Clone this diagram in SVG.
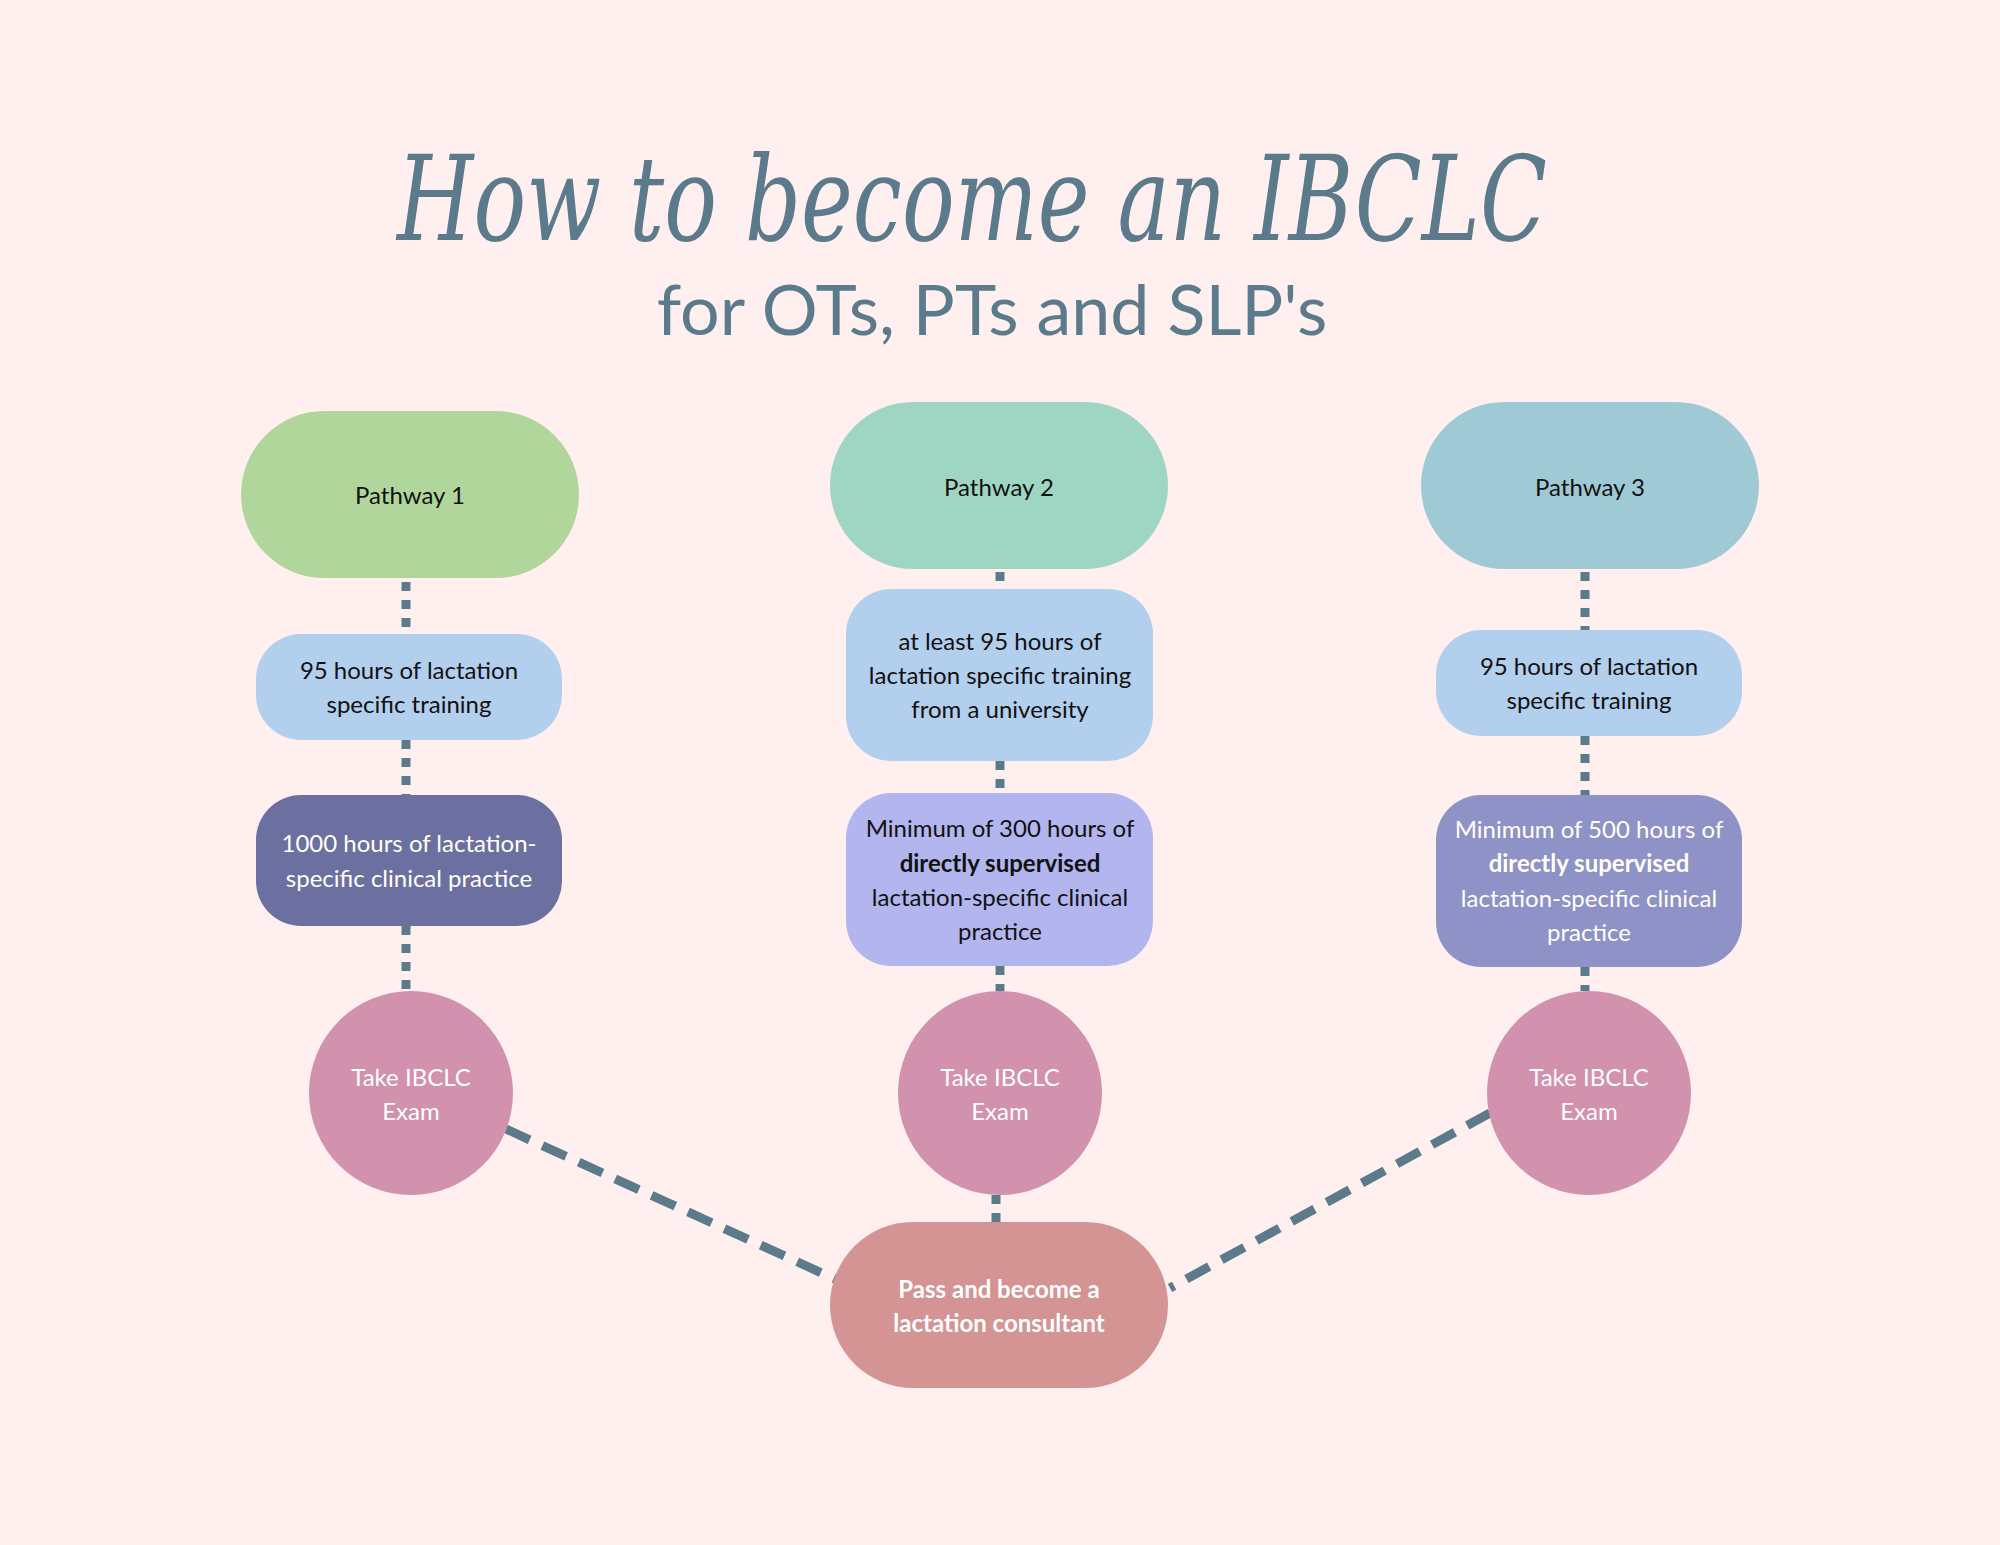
<svg xmlns="http://www.w3.org/2000/svg" width="2000" height="1545" viewBox="0 0 2000 1545">
<style>
.t{font-family:"Lato","Noto Sans",sans-serif;font-size:24px;text-anchor:middle;fill:#111}
.w{fill:#fff}
.b{font-weight:bold}
.dot{stroke:#5b7a8a;stroke-width:9;stroke-dasharray:9 9;fill:none}
.dash{stroke:#5b7a8a;stroke-width:9;stroke-dasharray:26 14;fill:none}
</style>
<rect width="2000" height="1545" fill="#fff0ef"/>
<text x="972" y="240" font-family="'DejaVu Serif',serif" font-style="italic" font-size="118" fill="#5b7a8c" text-anchor="middle" textLength="1150" lengthAdjust="spacingAndGlyphs">How to become an IBCLC</text>
<text x="992" y="335" font-family="'Lato','Noto Sans',sans-serif" font-size="70" fill="#5b7a8c" text-anchor="middle">for OTs, PTs and SLP's</text>
<g id="connectors">
<path class="dot" d="M406 582V634M406 740V795M406 926V991"/>
<path class="dot" d="M1000 572V589M1000 761V793M1000 966V991"/>
<path class="dot" d="M1585 572V630M1585 736V795M1585 967V991"/>
<path class="dot" d="M996 1195V1222"/>
<path class="dash" d="M506 1129L835 1279"/>
<path class="dash" d="M1490 1113L1170 1288"/>
</g>
<g id="p1"><rect x="241" y="411" width="338" height="167" rx="83.5" fill="#b0d69b"/><text class="t" x="410" y="504">Pathway 1</text></g>
<g id="p2"><rect x="830" y="402" width="338" height="167" rx="83.5" fill="#9fd6c3"/><text class="t" x="999" y="496">Pathway 2</text></g>
<g id="p3"><rect x="1421" y="402" width="338" height="167" rx="83.5" fill="#a0c9d6"/><text class="t" x="1590" y="496">Pathway 3</text></g>
<g id="b1a"><rect x="256" y="634" width="306" height="106" rx="45" fill="#b3cfee"/><text class="t" x="409" y="679">95 hours of lactation</text><text class="t" x="409" y="713">specific training</text></g>
<g id="b1b"><rect x="256" y="795" width="306" height="131" rx="45" fill="#6b70a0"/><text class="t w" x="409" y="852">1000 hours of lactation-</text><text class="t w" x="409" y="887">specific clinical practice</text></g>
<g id="b2a"><rect x="846" y="589" width="307" height="172" rx="45" fill="#b3cfee"/><text class="t" x="1000" y="650">at least 95 hours of</text><text class="t" x="1000" y="684">lactation specific training</text><text class="t" x="1000" y="718">from a university</text></g>
<g id="b2b"><rect x="846" y="793" width="307" height="173" rx="45" fill="#b3b6ee"/><text class="t" x="1000" y="837">Minimum of 300 hours of</text><text class="t b" x="1000" y="872">directly supervised</text><text class="t" x="1000" y="906">lactation-specific clinical</text><text class="t" x="1000" y="940">practice</text></g>
<g id="b3a"><rect x="1436" y="630" width="306" height="106" rx="45" fill="#b3cfee"/><text class="t" x="1589" y="675">95 hours of lactation</text><text class="t" x="1589" y="709">specific training</text></g>
<g id="b3b"><rect x="1436" y="795" width="306" height="172" rx="45" fill="#8f92c6"/><text class="t w" x="1589" y="838">Minimum of 500 hours of</text><text class="t w b" x="1589" y="872">directly supervised</text><text class="t w" x="1589" y="907">lactation-specific clinical</text><text class="t w" x="1589" y="941">practice</text></g>
<g id="c1"><circle cx="411" cy="1093" r="102" fill="#d291ad"/><text class="t w" x="411" y="1086">Take IBCLC</text><text class="t w" x="411" y="1120">Exam</text></g>
<g id="c2"><circle cx="1000" cy="1093" r="102" fill="#d291ad"/><text class="t w" x="1000" y="1086">Take IBCLC</text><text class="t w" x="1000" y="1120">Exam</text></g>
<g id="c3"><circle cx="1589" cy="1093" r="102" fill="#d291ad"/><text class="t w" x="1589" y="1086">Take IBCLC</text><text class="t w" x="1589" y="1120">Exam</text></g>
<g id="end"><rect x="830" y="1222" width="338" height="166" rx="83" fill="#d49494"/><text class="t w b" x="999" y="1298">Pass and become a</text><text class="t w b" x="999" y="1332">lactation consultant</text></g>
</svg>
